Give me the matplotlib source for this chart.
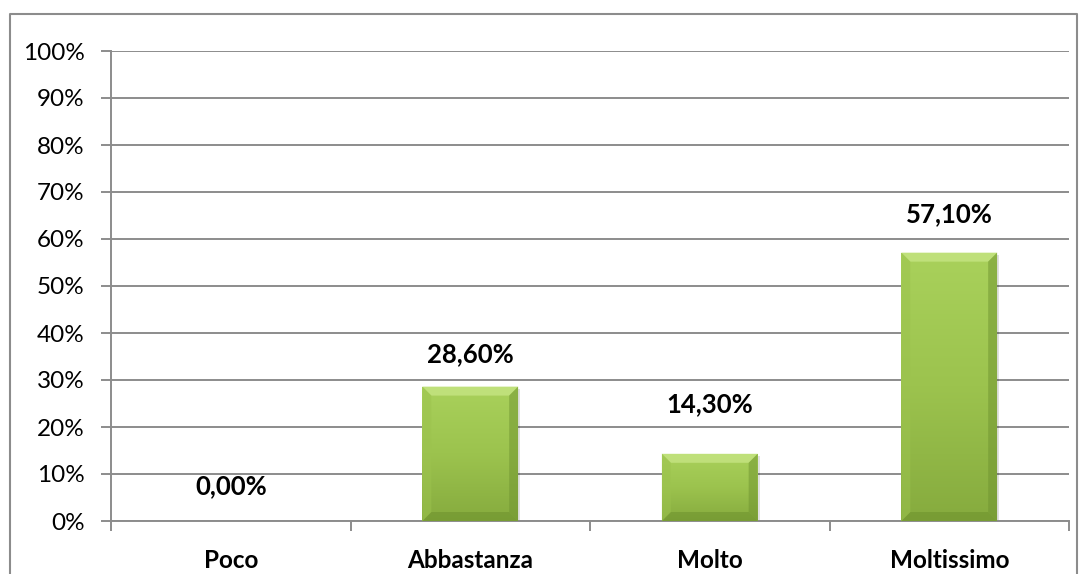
import matplotlib.pyplot as plt
import numpy as np
from matplotlib.patches import Polygon, Rectangle
from matplotlib.colors import LinearSegmentedColormap
from matplotlib.lines import Line2D
from matplotlib.ticker import FuncFormatter, MultipleLocator

plt.switch_backend('Agg')
plt.rcParams['font.family'] = ['Lato', 'DejaVu Sans']

# Dati del grafico
categorie = ['Poco', 'Abbastanza', 'Molto', 'Moltissimo']
valori = [0.0, 0.286, 0.143, 0.571]
etichette = ['0,00%', '28,60%', '14,30%', '57,10%']

W, H = 1085, 574
fig = plt.figure(figsize=(W / 100, H / 100), dpi=100)
ax = fig.add_axes([111 / W, 1 - 521 / H, (1069 - 111) / W, (521 - 51) / H])

ax.set_xlim(0, len(categorie))
ax.set_ylim(0, 1)

# px -> unità dati
px_x = len(categorie) / (1069 - 111)
px_y = 1.0 / (521 - 51)

grigio = '#8c8c8c'
ax.yaxis.set_major_locator(MultipleLocator(0.1))
ax.yaxis.set_major_formatter(FuncFormatter(lambda v, p: f'{v * 100:.0f}%'))
ax.yaxis.grid(True, color=grigio, linewidth=1.4)
ax.set_axisbelow(True)
for s in ['top', 'right']:
    ax.spines[s].set_visible(False)
ax.spines['left'].set_color(grigio)
ax.spines['bottom'].set_color(grigio)
ax.spines['left'].set_linewidth(1.4)
ax.spines['bottom'].set_linewidth(1.4)

ax.set_xticks(np.arange(len(categorie) + 1))
ax.set_xticklabels([])
ax.set_xticks(np.arange(len(categorie)) + 0.5, minor=True)
ax.set_xticklabels(categorie, minor=True, fontsize=17.5, fontweight='bold')
ax.tick_params(axis='x', which='major', length=7, color=grigio, width=1.4)
ax.tick_params(axis='x', which='minor', length=0, pad=20)
ax.tick_params(axis='y', length=7, color=grigio, width=1.4, labelsize=17.5, pad=12)

cmap = LinearSegmentedColormap.from_list('verde', ['#a9d15b', '#9cc34e', '#86ab3e'])
larg = 0.4
bev_x = 9 * px_x
bev_y = 9 * px_y

for i, v in enumerate(valori):
    x0 = i + 0.5 - larg / 2
    x1 = x0 + larg
    if v <= 0:
        continue
    # ombra leggera
    ax.add_patch(Rectangle((x0 + 2 * px_x, -2 * px_y), larg, v, color='#000000',
                           alpha=0.12, zorder=2, linewidth=0))
    rett = Rectangle((x0, 0), larg, v, facecolor='none', edgecolor='none', zorder=3)
    ax.add_patch(rett)
    grad = np.linspace(1, 0, 256).reshape(-1, 1)
    im = ax.imshow(grad, cmap=cmap, aspect='auto', extent=[x0, x1, 0, v],
                   origin='lower', zorder=3)
    im.set_clip_path(rett)
    # smussatura
    bx = min(bev_x, larg / 2)
    by = min(bev_y, v / 2)
    alto = [(x0, v), (x1, v), (x1 - bx, v - by), (x0 + bx, v - by)]
    basso = [(x0, 0), (x1, 0), (x1 - bx, by), (x0 + bx, by)]
    sin = [(x0, 0), (x0, v), (x0 + bx, v - by), (x0 + bx, by)]
    des = [(x1, 0), (x1, v), (x1 - bx, v - by), (x1 - bx, by)]
    ax.add_patch(Polygon(alto, closed=True, color='#c2e27e', alpha=0.9, zorder=4, lw=0))
    ax.add_patch(Polygon(basso, closed=True, color='#6b8f2c', alpha=0.5, zorder=4, lw=0))
    ax.add_patch(Polygon(sin, closed=True, color='#9cc34e', alpha=0.5, zorder=4, lw=0))
    ax.add_patch(Polygon(des, closed=True, color='#6f9330', alpha=0.5, zorder=4, lw=0))

# etichette dati (posizionate a mano come nell'originale)
offset_px = [35, 32, 50, 38]
for i, (v, t) in enumerate(zip(valori, etichette)):
    ax.text(i + 0.5, v + offset_px[i] * px_y, t, ha='center', va='center',
            fontsize=18.5, fontweight='bold', color='#000000', zorder=5)

# cornice del grafico
bordo = '#8c8c8c'
xl, xr, yt = 10 / W, 1077 / W, 1 - 14 / H
fig.add_artist(Line2D([xl, xl, xr, xr], [0, yt, yt, 0], color=bordo,
                      linewidth=1.5, transform=fig.transFigure))

fig.savefig('out.png', dpi=100)
plt.close(fig)
